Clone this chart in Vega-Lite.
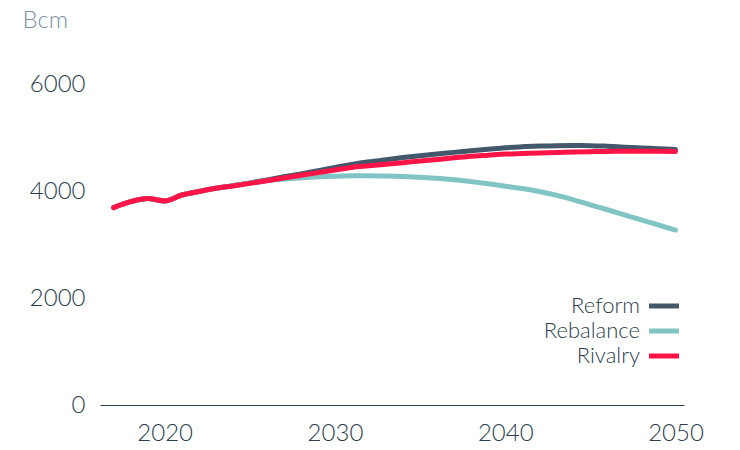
{
  "$schema": "https://vega.github.io/schema/vega-lite/v6.json",
  "width": 584,
  "height": 321,
  "autosize": "none",
  "padding": {"left": 100, "top": 84, "right": 56, "bottom": 45},
  "background": "white",
  "config": {"view": {"stroke": null}, "font": "Lato"},
  "datasets": {
    "series": [
      {"year": 2017, "scenario": "Reform", "value": 3690},
      {"year": 2018, "scenario": "Reform", "value": 3800},
      {"year": 2019, "scenario": "Reform", "value": 3860},
      {"year": 2020, "scenario": "Reform", "value": 3815},
      {"year": 2021, "scenario": "Reform", "value": 3925},
      {"year": 2022, "scenario": "Reform", "value": 3990},
      {"year": 2023, "scenario": "Reform", "value": 4050},
      {"year": 2024, "scenario": "Reform", "value": 4100},
      {"year": 2025, "scenario": "Reform", "value": 4152},
      {"year": 2026, "scenario": "Reform", "value": 4208},
      {"year": 2027, "scenario": "Reform", "value": 4265},
      {"year": 2028, "scenario": "Reform", "value": 4320},
      {"year": 2029, "scenario": "Reform", "value": 4378},
      {"year": 2030, "scenario": "Reform", "value": 4440},
      {"year": 2031, "scenario": "Reform", "value": 4495},
      {"year": 2032, "scenario": "Reform", "value": 4545},
      {"year": 2033, "scenario": "Reform", "value": 4585},
      {"year": 2034, "scenario": "Reform", "value": 4625},
      {"year": 2035, "scenario": "Reform", "value": 4660},
      {"year": 2036, "scenario": "Reform", "value": 4692},
      {"year": 2037, "scenario": "Reform", "value": 4722},
      {"year": 2038, "scenario": "Reform", "value": 4752},
      {"year": 2039, "scenario": "Reform", "value": 4780},
      {"year": 2040, "scenario": "Reform", "value": 4808},
      {"year": 2041, "scenario": "Reform", "value": 4828},
      {"year": 2042, "scenario": "Reform", "value": 4840},
      {"year": 2043, "scenario": "Reform", "value": 4848},
      {"year": 2044, "scenario": "Reform", "value": 4850},
      {"year": 2045, "scenario": "Reform", "value": 4848},
      {"year": 2046, "scenario": "Reform", "value": 4836},
      {"year": 2047, "scenario": "Reform", "value": 4820},
      {"year": 2048, "scenario": "Reform", "value": 4805},
      {"year": 2049, "scenario": "Reform", "value": 4790},
      {"year": 2050, "scenario": "Reform", "value": 4775},
      {"year": 2017, "scenario": "Rebalance", "value": 3690},
      {"year": 2018, "scenario": "Rebalance", "value": 3800},
      {"year": 2019, "scenario": "Rebalance", "value": 3860},
      {"year": 2020, "scenario": "Rebalance", "value": 3815},
      {"year": 2021, "scenario": "Rebalance", "value": 3925},
      {"year": 2022, "scenario": "Rebalance", "value": 3990},
      {"year": 2023, "scenario": "Rebalance", "value": 4050},
      {"year": 2024, "scenario": "Rebalance", "value": 4097},
      {"year": 2025, "scenario": "Rebalance", "value": 4147},
      {"year": 2026, "scenario": "Rebalance", "value": 4193},
      {"year": 2027, "scenario": "Rebalance", "value": 4222},
      {"year": 2028, "scenario": "Rebalance", "value": 4245},
      {"year": 2029, "scenario": "Rebalance", "value": 4265},
      {"year": 2030, "scenario": "Rebalance", "value": 4278},
      {"year": 2031, "scenario": "Rebalance", "value": 4285},
      {"year": 2032, "scenario": "Rebalance", "value": 4287},
      {"year": 2033, "scenario": "Rebalance", "value": 4280},
      {"year": 2034, "scenario": "Rebalance", "value": 4270},
      {"year": 2035, "scenario": "Rebalance", "value": 4255},
      {"year": 2036, "scenario": "Rebalance", "value": 4237},
      {"year": 2037, "scenario": "Rebalance", "value": 4210},
      {"year": 2038, "scenario": "Rebalance", "value": 4175},
      {"year": 2039, "scenario": "Rebalance", "value": 4135},
      {"year": 2040, "scenario": "Rebalance", "value": 4090},
      {"year": 2041, "scenario": "Rebalance", "value": 4045},
      {"year": 2042, "scenario": "Rebalance", "value": 3990},
      {"year": 2043, "scenario": "Rebalance", "value": 3922},
      {"year": 2044, "scenario": "Rebalance", "value": 3835},
      {"year": 2045, "scenario": "Rebalance", "value": 3742},
      {"year": 2046, "scenario": "Rebalance", "value": 3650},
      {"year": 2047, "scenario": "Rebalance", "value": 3555},
      {"year": 2048, "scenario": "Rebalance", "value": 3460},
      {"year": 2049, "scenario": "Rebalance", "value": 3365},
      {"year": 2050, "scenario": "Rebalance", "value": 3270},
      {"year": 2017, "scenario": "Rivalry", "value": 3690},
      {"year": 2018, "scenario": "Rivalry", "value": 3800},
      {"year": 2019, "scenario": "Rivalry", "value": 3860},
      {"year": 2020, "scenario": "Rivalry", "value": 3815},
      {"year": 2021, "scenario": "Rivalry", "value": 3925},
      {"year": 2022, "scenario": "Rivalry", "value": 3990},
      {"year": 2023, "scenario": "Rivalry", "value": 4050},
      {"year": 2024, "scenario": "Rivalry", "value": 4095},
      {"year": 2025, "scenario": "Rivalry", "value": 4143},
      {"year": 2026, "scenario": "Rivalry", "value": 4193},
      {"year": 2027, "scenario": "Rivalry", "value": 4243},
      {"year": 2028, "scenario": "Rivalry", "value": 4293},
      {"year": 2029, "scenario": "Rivalry", "value": 4343},
      {"year": 2030, "scenario": "Rivalry", "value": 4393},
      {"year": 2031, "scenario": "Rivalry", "value": 4440},
      {"year": 2032, "scenario": "Rivalry", "value": 4470},
      {"year": 2033, "scenario": "Rivalry", "value": 4500},
      {"year": 2034, "scenario": "Rivalry", "value": 4530},
      {"year": 2035, "scenario": "Rivalry", "value": 4560},
      {"year": 2036, "scenario": "Rivalry", "value": 4590},
      {"year": 2037, "scenario": "Rivalry", "value": 4620},
      {"year": 2038, "scenario": "Rivalry", "value": 4650},
      {"year": 2039, "scenario": "Rivalry", "value": 4670},
      {"year": 2040, "scenario": "Rivalry", "value": 4690},
      {"year": 2041, "scenario": "Rivalry", "value": 4700},
      {"year": 2042, "scenario": "Rivalry", "value": 4710},
      {"year": 2043, "scenario": "Rivalry", "value": 4718},
      {"year": 2044, "scenario": "Rivalry", "value": 4727},
      {"year": 2045, "scenario": "Rivalry", "value": 4735},
      {"year": 2046, "scenario": "Rivalry", "value": 4740},
      {"year": 2047, "scenario": "Rivalry", "value": 4742},
      {"year": 2048, "scenario": "Rivalry", "value": 4742},
      {"year": 2049, "scenario": "Rivalry", "value": 4742},
      {"year": 2050, "scenario": "Rivalry", "value": 4738}
    ]
  },
  "data": {"name": "series"},
  "mark": {"type": "line", "strokeWidth": 5, "strokeCap": "round", "interpolate": "monotone"},
  "encoding": {
    "x": {
      "field": "year", "type": "quantitative",
      "scale": {"domain": [2016.2, 2050.5], "nice": false, "zero": false},
      "axis": {
        "values": [2020, 2030, 2040, 2050], "format": "d", "title": null,
        "grid": false, "ticks": false, "domainColor": "#2c3e50", "domainWidth": 1.2,
        "labelFontSize": 24, "labelFontWeight": 300, "labelColor": "#2c3e50", "labelPadding": 16
      }
    },
    "y": {
      "field": "value", "type": "quantitative",
      "scale": {"domain": [0, 6000], "nice": false},
      "axis": {
        "values": [0, 2000, 4000, 6000], "format": "d",
        "title": "Bcm", "titleAngle": 0, "titleX": -78, "titleY": -57, "titleAlign": "left",
        "titleBaseline": "alphabetic", "titleFontSize": 24, "titleFontWeight": 300, "titleColor": "#7b92a6",
        "grid": false, "ticks": false, "domain": false,
        "labelFontSize": 24, "labelFontWeight": 300, "labelColor": "#2c3e50", "labelPadding": 15
      }
    },
    "color": {
      "field": "scenario", "type": "nominal",
      "sort": ["Reform", "Rebalance", "Rivalry"],
      "scale": {"domain": ["Reform", "Rebalance", "Rivalry"], "range": ["#44586b", "#80c4c3", "#ff1447"]},
      "legend": {
        "title": null, "orient": "none", "legendX": 553, "legendY": 211,
        "symbolType": "M-3,0H3", "symbolSize": 100, "symbolStrokeWidth": 5,
        "labelAlign": "right", "labelOffset": -35,
        "labelFontSize": 22, "labelFontWeight": 300, "labelColor": "#2c3e50",
        "rowPadding": 3
      }
    },
    "order": {"field": "scenario"}
  }
}
